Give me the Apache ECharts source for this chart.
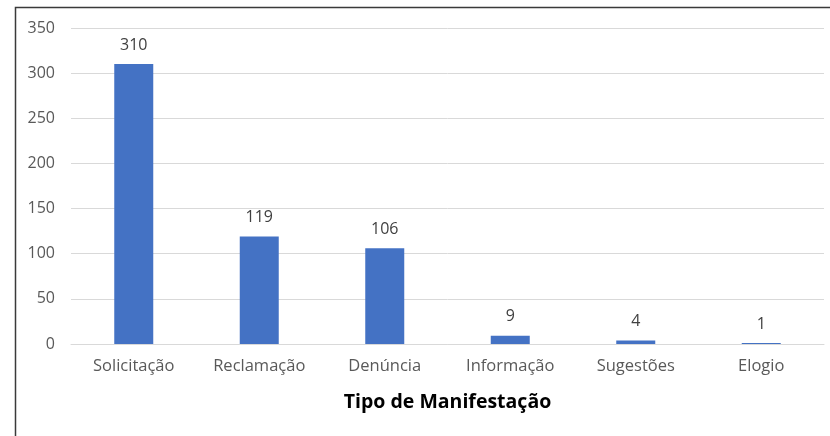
<!DOCTYPE html>
<html>
<head>
<meta charset="utf-8">
<script src="https://cdn.jsdelivr.net/npm/echarts@6/dist/echarts.min.js"></script>
<style>
  html, body { margin: 0; padding: 0; background: #ffffff; }
  #chart { width: 830px; height: 436px; }
</style>
</head>
<body>
<div id="chart"></div>
<script>
// Manifestações registradas por tipo
const categories = ['Solicitação', 'Reclamação', 'Denúncia', 'Informação', 'Sugestões', 'Elogio'];
const values = [310, 119, 106, 9, 4, 1];
const axisTitle = 'Tipo de Manifestação';

const chart = echarts.init(document.getElementById('chart'));
chart.setOption({
  animation: false,
  textStyle: { fontFamily: 'Open Sans, Noto Sans, sans-serif' },
  graphic: [{
    type: 'rect',
    shape: { x: 15.5, y: 7.5, width: 900, height: 500 },
    style: { fill: 'none', stroke: '#3a3a3a', lineWidth: 1.5 },
    silent: true
  }],
  grid: { left: 71, right: 6, top: 28, bottom: 92, containLabel: false },
  xAxis: {
    type: 'category',
    data: categories,
    name: axisTitle,
    nameLocation: 'middle',
    nameGap: 48,
    nameTextStyle: { fontSize: 19.5, fontWeight: 'bold', color: '#000000' },
    axisLine: { show: true, lineStyle: { color: '#d9d9d9', width: 1 } },
    axisTick: { show: false },
    axisLabel: { fontSize: 16.5, color: '#595959', margin: 14 }
  },
  yAxis: {
    type: 'value',
    min: 0,
    max: 350,
    interval: 50,
    axisLine: { show: false },
    axisTick: { show: false },
    axisLabel: { fontSize: 16, color: '#595959', margin: 16 },
    splitLine: { lineStyle: { color: '#d9d9d9', width: 1 } }
  },
  series: [{
    type: 'bar',
    data: values,
    barWidth: 39,
    itemStyle: { color: '#4472C4' },
    label: {
      show: true,
      position: 'top',
      distance: 11,
      fontSize: 16,
      color: '#404040'
    }
  }]
});
</script>
</body>
</html>
